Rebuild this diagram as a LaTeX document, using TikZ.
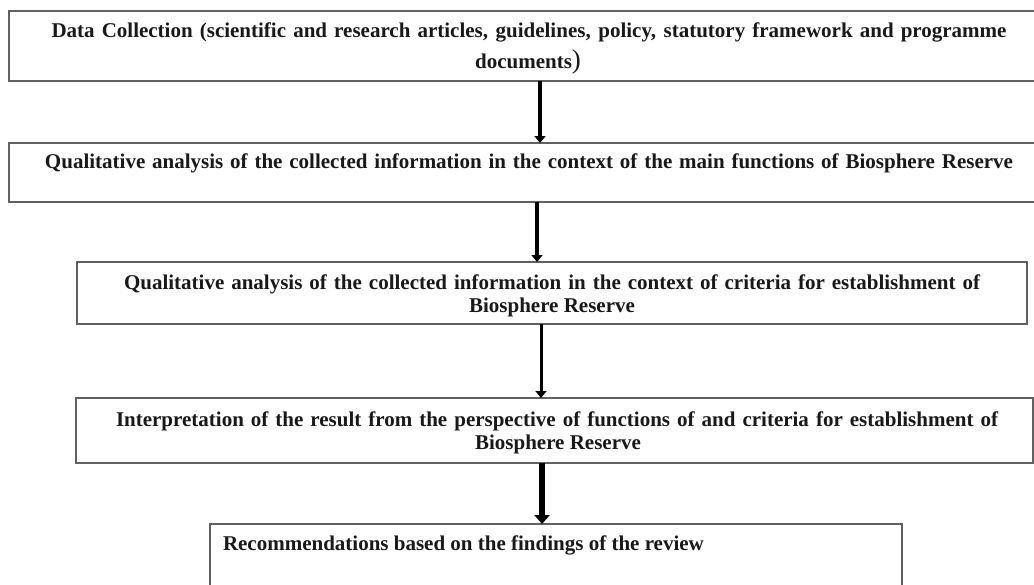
\documentclass[tikz,border=0pt]{standalone}
\usepackage{fontspec}
\setmainfont{Liberation Serif}
\usetikzlibrary{arrows.meta}
\tikzset{
  box/.style={draw=black!62, line width=1.6pt, inner sep=0pt, outer sep=0pt, anchor=north west, fill=white},
  txt/.style={inner sep=0pt, outer sep=0pt, anchor=base, text=black!90, font=\fontsize{21}{23}\selectfont\bfseries},
  arr/.style={line width=4pt, -{Triangle[length=7pt,width=11pt]}},
}
\begin{document}
\begin{tikzpicture}[x=1pt,y=-1pt]
\fill[white] (0,0) rectangle (1034,584);
\useasboundingbox (0,0) rectangle (1034,584);
% boxes
\node[box, minimum width=1027pt, minimum height=70pt] (b1) at (9,11) {};
\node[box, minimum width=1027pt, minimum height=59pt] (b2) at (9,143) {};
\node[box, minimum width=950pt, minimum height=62pt] (b3) at (77,262) {};
\node[box, minimum width=957pt, minimum height=65pt] (b4) at (76,398) {};
\node[box, minimum width=692pt, minimum height=80pt] (b5) at (210,524) {};
% texts
\node[txt] (t1a) at (529,37) {\makebox[955pt][s]{Data Collection (scientific and research articles, guidelines, policy, statutory framework and programme}};
\node[txt] (t1b) at (528,68) {documents{\fontsize{27}{27}\selectfont\mdseries)}};
\node[txt] (t2) at (529,168) {\makebox[968pt][s]{Qualitative analysis of the collected information in the context of the main functions of Biosphere Reserve}};
\node[txt] (t3a) at (552,289) {\makebox[856pt][s]{Qualitative analysis of the collected information in the context of criteria for establishment of}};
\node[txt] (t3b) at (552,312) {Biosphere Reserve};
\node[txt] (t4a) at (557,426) {\makebox[882pt][s]{Interpretation of the result from the perspective of functions of and criteria for establishment of}};
\node[txt] (t4b) at (558,449) {Biosphere Reserve};
\node[txt, anchor=base west] (t5) at (223,550) {Recommendations based on the findings of the review};
% arrows
\draw[arr] ([xshift=17.5pt]b1.south) -- ([xshift=17.5pt]b2.north);
\draw[arr] ([xshift=14.5pt]b2.south) -- ([xshift=-15pt]b3.north);
\draw[arr, line width=3pt] ([xshift=-11pt]b3.south) -- ([xshift=-13.5pt]b4.north);
\draw[arr, line width=6pt, -{Triangle[length=9pt,width=15pt]}] ([xshift=-12.5pt]b4.south) -- ([xshift=-14pt]b5.north);
\end{tikzpicture}
\end{document}
